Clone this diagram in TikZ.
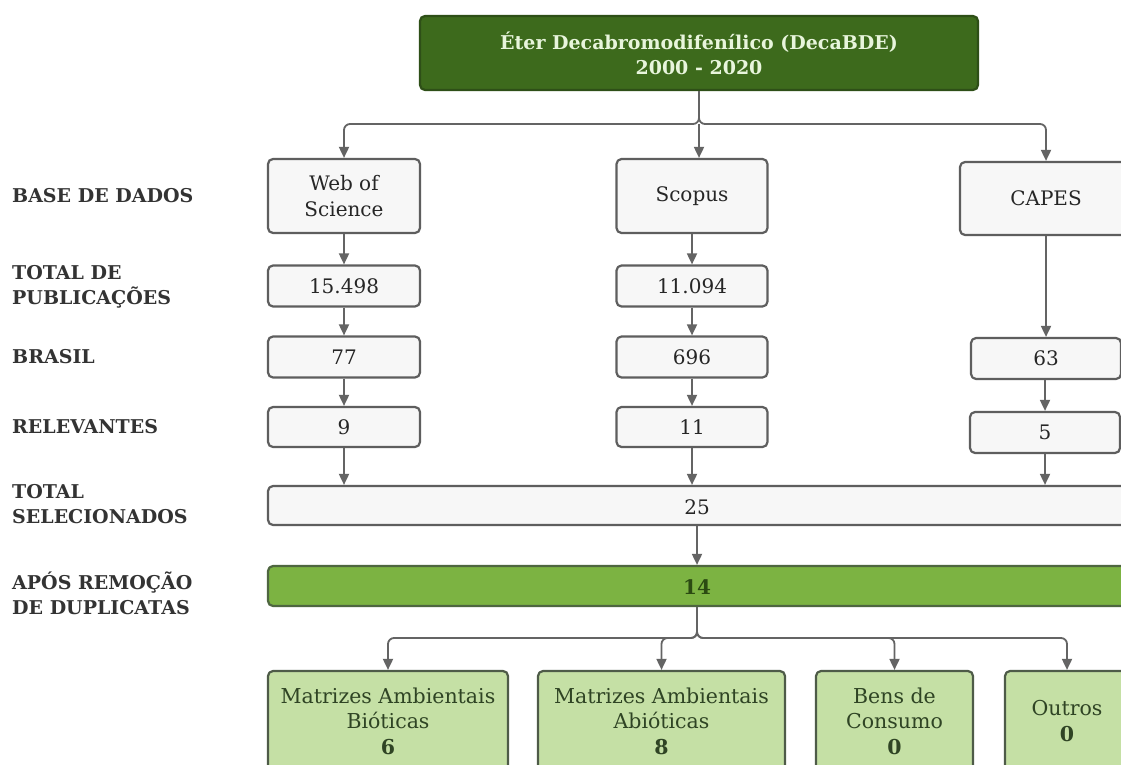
\documentclass[tikz,border=0pt]{standalone}
\usepackage{fontspec}
\setmainfont{DejaVu Serif}
\usetikzlibrary{arrows.meta}
\definecolor{headfill}{HTML}{3D6A1C}
\definecolor{headline}{HTML}{2E4F17}
\definecolor{headtext}{HTML}{E8F5DC}
\definecolor{cellfill}{HTML}{F7F7F7}
\definecolor{cellline}{HTML}{5E5E5E}
\definecolor{barfill}{HTML}{7CB342}
\definecolor{barline}{HTML}{4E6640}
\definecolor{bartext}{HTML}{2B4A12}
\definecolor{leaffill}{HTML}{C5E0A5}
\definecolor{leafline}{HTML}{4E5B48}
\definecolor{leaftext}{HTML}{2F4424}
\definecolor{conncol}{HTML}{646464}
\definecolor{lbltext}{HTML}{333333}
\begin{document}
\begin{tikzpicture}[x=1pt, y=-1pt, font=\fontsize{20}{25.5}\selectfont, line join=round,
	>={Triangle[length=11pt,width=10pt]},
	cell/.style={draw=cellline, fill=cellfill, line width=2.2pt, rounded corners=5pt, text=black!85, align=center, inner sep=0pt},
	head/.style={cell, draw=headline, fill=headfill, text=headtext, font=\fontsize{19}{25}\selectfont\bfseries},
	bar/.style={cell, draw=barline, fill=barfill, text=bartext, font=\fontsize{20}{25}\selectfont\bfseries},
	leaf/.style={cell, draw=leafline, fill=leaffill, text=leaftext, minimum height=100pt, font=\fontsize{20.5}{25.5}\selectfont},
	lbl/.style={anchor=west, align=left, inner sep=0pt, text=lbltext, font=\fontsize{19}{25}\selectfont\bfseries},
	conn/.style={->, draw=conncol, line width=1.8pt, rounded corners=6pt}]
	\useasboundingbox (0,0) rectangle (1121,765);
	\fill[white] (0,0) rectangle (1121,765);
	\clip (0,0) rectangle (1121,765);
	% row labels
	\node[lbl] (lbase) at (12,196) {BASE DE DADOS};
	\node[lbl] (ltotal) at (12,286.5) {TOTAL DE\\PUBLICAÇÕES};
	\node[lbl] (lbrasil) at (12,357) {BRASIL};
	\node[lbl] (lrel) at (12,427) {RELEVANTES};
	\node[lbl] (lsel) at (12,504.5) {TOTAL\\SELECIONADOS};
	\node[lbl] (ldup) at (12,593) {APÓS REMOÇÃO\\DE DUPLICATAS};
	% boxes
	\node[head, minimum width=558pt, minimum height=74pt] (top) at (699,53) {Éter Decabromodifenílico (DecaBDE)\\2000 - 2020};
	\node[cell, minimum width=152pt, minimum height=74pt] (wos) at (344,196) {Web of\\Science};
	\node[cell, minimum width=151pt, minimum height=74pt] (sco) at (692,196) {Scopus};
	\node[cell, minimum width=172pt, minimum height=73pt] (cap) at (1046,198.5) {CAPES};
	\node[cell, minimum width=152pt, minimum height=41pt] (wostot) at (344,286) {15.498};
	\node[cell, minimum width=151pt, minimum height=41pt] (scotot) at (692,286) {11.094};
	\node[cell, minimum width=152pt, minimum height=41pt] (wosbr) at (344,357) {77};
	\node[cell, minimum width=151pt, minimum height=41pt] (scobr) at (692,357) {696};
	\node[cell, minimum width=150pt, minimum height=41pt] (capbr) at (1046,358.5) {63};
	\node[cell, minimum width=152pt, minimum height=40pt] (wosrel) at (344,427) {9};
	\node[cell, minimum width=151pt, minimum height=40pt] (scorel) at (692,427) {11};
	\node[cell, minimum width=150pt, minimum height=41pt] (caprel) at (1045,432.5) {5};
	\node[cell, minimum width=867pt, minimum height=39pt] (sel) at (701.5,505.5) {};
	\node[text=black!85] (seltxt) at (697,507) {25};
	\node[bar, minimum width=867pt, minimum height=40pt] (dup) at (701.5,586) {};
	\node[text=bartext, font=\fontsize{20}{25}\selectfont\bfseries] (duptxt) at (697,587) {14};
	\node[leaf, minimum width=240pt] (bio) at (388,721) {Matrizes Ambientais\\Bióticas\\\textbf{6}};
	\node[leaf, minimum width=247pt] (abio) at (661.5,721) {Matrizes Ambientais\\Abióticas\\\textbf{8}};
	\node[leaf, minimum width=157pt] (bens) at (894.5,721) {Bens de\\Consumo\\\textbf{0}};
	\node[leaf, minimum width=124pt] (outros) at (1067,721) {Outros\\\textbf{0}};
	% connectors
	\coordinate (jtop) at (699,124);
	\coordinate (jdup) at (697,638);
	\draw[conn] (top.south -| jtop) -- (jtop) -| (wos.north);
	\draw[conn] (top.south -| jtop) -- (jtop) -| (cap.north);
	\draw[conn] (jtop) -- (jtop |- sco.north);
	\draw[conn] (wos) -- (wostot);
	\draw[conn] (wostot) -- (wosbr);
	\draw[conn] (wosbr) -- (wosrel);
	\draw[conn] (wosrel.south) -- (wosrel.south |- sel.north);
	\draw[conn] (sco) -- (scotot);
	\draw[conn] (scotot) -- (scobr);
	\draw[conn] (scobr) -- (scorel);
	\draw[conn] (scorel.south) -- (scorel.south |- sel.north);
	\draw[conn] (cap) -- (capbr);
	\draw[conn] (capbr.south -| caprel) -- (caprel);
	\draw[conn] (caprel.south) -- (caprel.south |- sel.north);
	\draw[conn] (sel.south -| jdup) -- (dup.north -| jdup);
	\draw[conn] (dup.south -| jdup) -- (jdup) -| (bio.north);
	\draw[conn] (dup.south -| jdup) -- (jdup) -| (abio.north);
	\draw[conn] (dup.south -| jdup) -- (jdup) -| (bens.north);
	\draw[conn] (dup.south -| jdup) -- (jdup) -| (outros.north);
\end{tikzpicture}
\end{document}
